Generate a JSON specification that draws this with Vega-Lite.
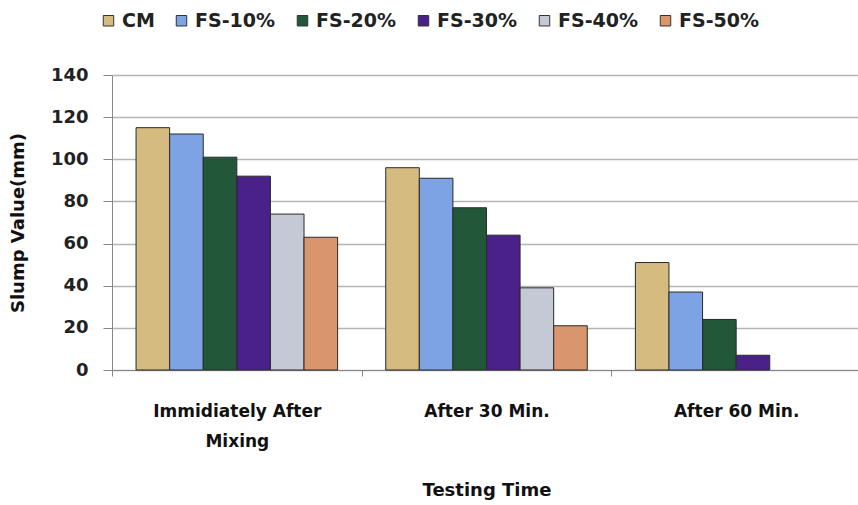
{
  "$schema": "https://vega.github.io/schema/vega-lite/v6.json",
  "autosize": {"type": "none"},
  "padding": {"left": 112, "top": 75, "right": -3, "bottom": 135},
  "width": 749,
  "height": 295,
  "background": "white",
  "config": {
    "font": "DejaVu Sans",
    "view": {"stroke": null}
  },
  "data": {
    "values": [
      {"time": "Immidiately After Mixing", "mix": "CM", "slump": 115},
      {"time": "Immidiately After Mixing", "mix": "FS-10%", "slump": 112},
      {"time": "Immidiately After Mixing", "mix": "FS-20%", "slump": 101},
      {"time": "Immidiately After Mixing", "mix": "FS-30%", "slump": 92},
      {"time": "Immidiately After Mixing", "mix": "FS-40%", "slump": 74},
      {"time": "Immidiately After Mixing", "mix": "FS-50%", "slump": 63},
      {"time": "After 30 Min.", "mix": "CM", "slump": 96},
      {"time": "After 30 Min.", "mix": "FS-10%", "slump": 91},
      {"time": "After 30 Min.", "mix": "FS-20%", "slump": 77},
      {"time": "After 30 Min.", "mix": "FS-30%", "slump": 64},
      {"time": "After 30 Min.", "mix": "FS-40%", "slump": 39},
      {"time": "After 30 Min.", "mix": "FS-50%", "slump": 21},
      {"time": "After 60 Min.", "mix": "CM", "slump": 51},
      {"time": "After 60 Min.", "mix": "FS-10%", "slump": 37},
      {"time": "After 60 Min.", "mix": "FS-20%", "slump": 24},
      {"time": "After 60 Min.", "mix": "FS-30%", "slump": 7},
      {"time": "After 60 Min.", "mix": "FS-40%", "slump": 0},
      {"time": "After 60 Min.", "mix": "FS-50%", "slump": 0}
    ]
  },
  "mark": {"type": "bar", "strokeWidth": 1},
  "encoding": {
    "x": {
      "field": "time",
      "type": "nominal",
      "sort": ["Immidiately After Mixing", "After 30 Min.", "After 60 Min."],
      "scale": {"paddingInner": 0, "paddingOuter": 0},
      "axis": {
        "title": "Testing Time",
        "titleFontSize": 18,
        "titleFontWeight": "bold",
        "titleColor": "#111",
        "titlePadding": 32,
        "labelAngle": 0,
        "labelFontSize": 17,
        "labelFontWeight": "bold",
        "labelColor": "#111",
        "labelPadding": 27,
        "labelLineHeight": 30,
        "labelExpr": "datum.value == 'Immidiately After Mixing' ? ['Immidiately After', 'Mixing'] : datum.value",
        "domainColor": "#888",
        "tickSize": 6,
        "tickColor": "#888",
        "tickBand": "extent"
      }
    },
    "xOffset": {
      "field": "mix",
      "type": "nominal",
      "sort": ["CM", "FS-10%", "FS-20%", "FS-30%", "FS-40%", "FS-50%"],
      "scale": {"paddingInner": 0, "paddingOuter": 0.716}
    },
    "y": {
      "field": "slump",
      "type": "quantitative",
      "scale": {"domain": [0, 140]},
      "axis": {
        "title": "Slump Value(mm)",
        "titleFontSize": 18,
        "titleFontWeight": "bold",
        "titleColor": "#111",
        "titlePadding": 23,
        "values": [0, 20, 40, 60, 80, 100, 120, 140],
        "labelFontSize": 18,
        "labelFontWeight": "bold",
        "labelColor": "#222",
        "labelPadding": 15,
        "tickSize": 9,
        "tickColor": "#888",
        "domainColor": "#888",
        "gridColor": "#b5b5b5",
        "gridWidth": 1.5
      }
    },
    "stroke": {
      "condition": {"test": "datum.slump == 0", "value": null},
      "value": "#2a2a2a"
    },
    "color": {
      "field": "mix",
      "type": "nominal",
      "sort": ["CM", "FS-10%", "FS-20%", "FS-30%", "FS-40%", "FS-50%"],
      "scale": {
        "domain": ["CM", "FS-10%", "FS-20%", "FS-30%", "FS-40%", "FS-50%"],
        "range": ["#d6bb80", "#7ea3e4", "#22573a", "#4a2089", "#c5c9d6", "#d9966c"]
      },
      "legend": {
        "title": null,
        "orient": "none",
        "direction": "horizontal",
        "legendX": -13,
        "legendY": -64,
        "columns": 6,
        "columnPadding": 17,
        "symbolType": "square",
        "symbolSize": 110,
        "symbolStrokeColor": "#333",
        "symbolStrokeWidth": 1,
        "labelFontSize": 19,
        "labelFontWeight": "bold",
        "labelColor": "#222",
        "labelOffset": 4
      }
    }
  }
}
